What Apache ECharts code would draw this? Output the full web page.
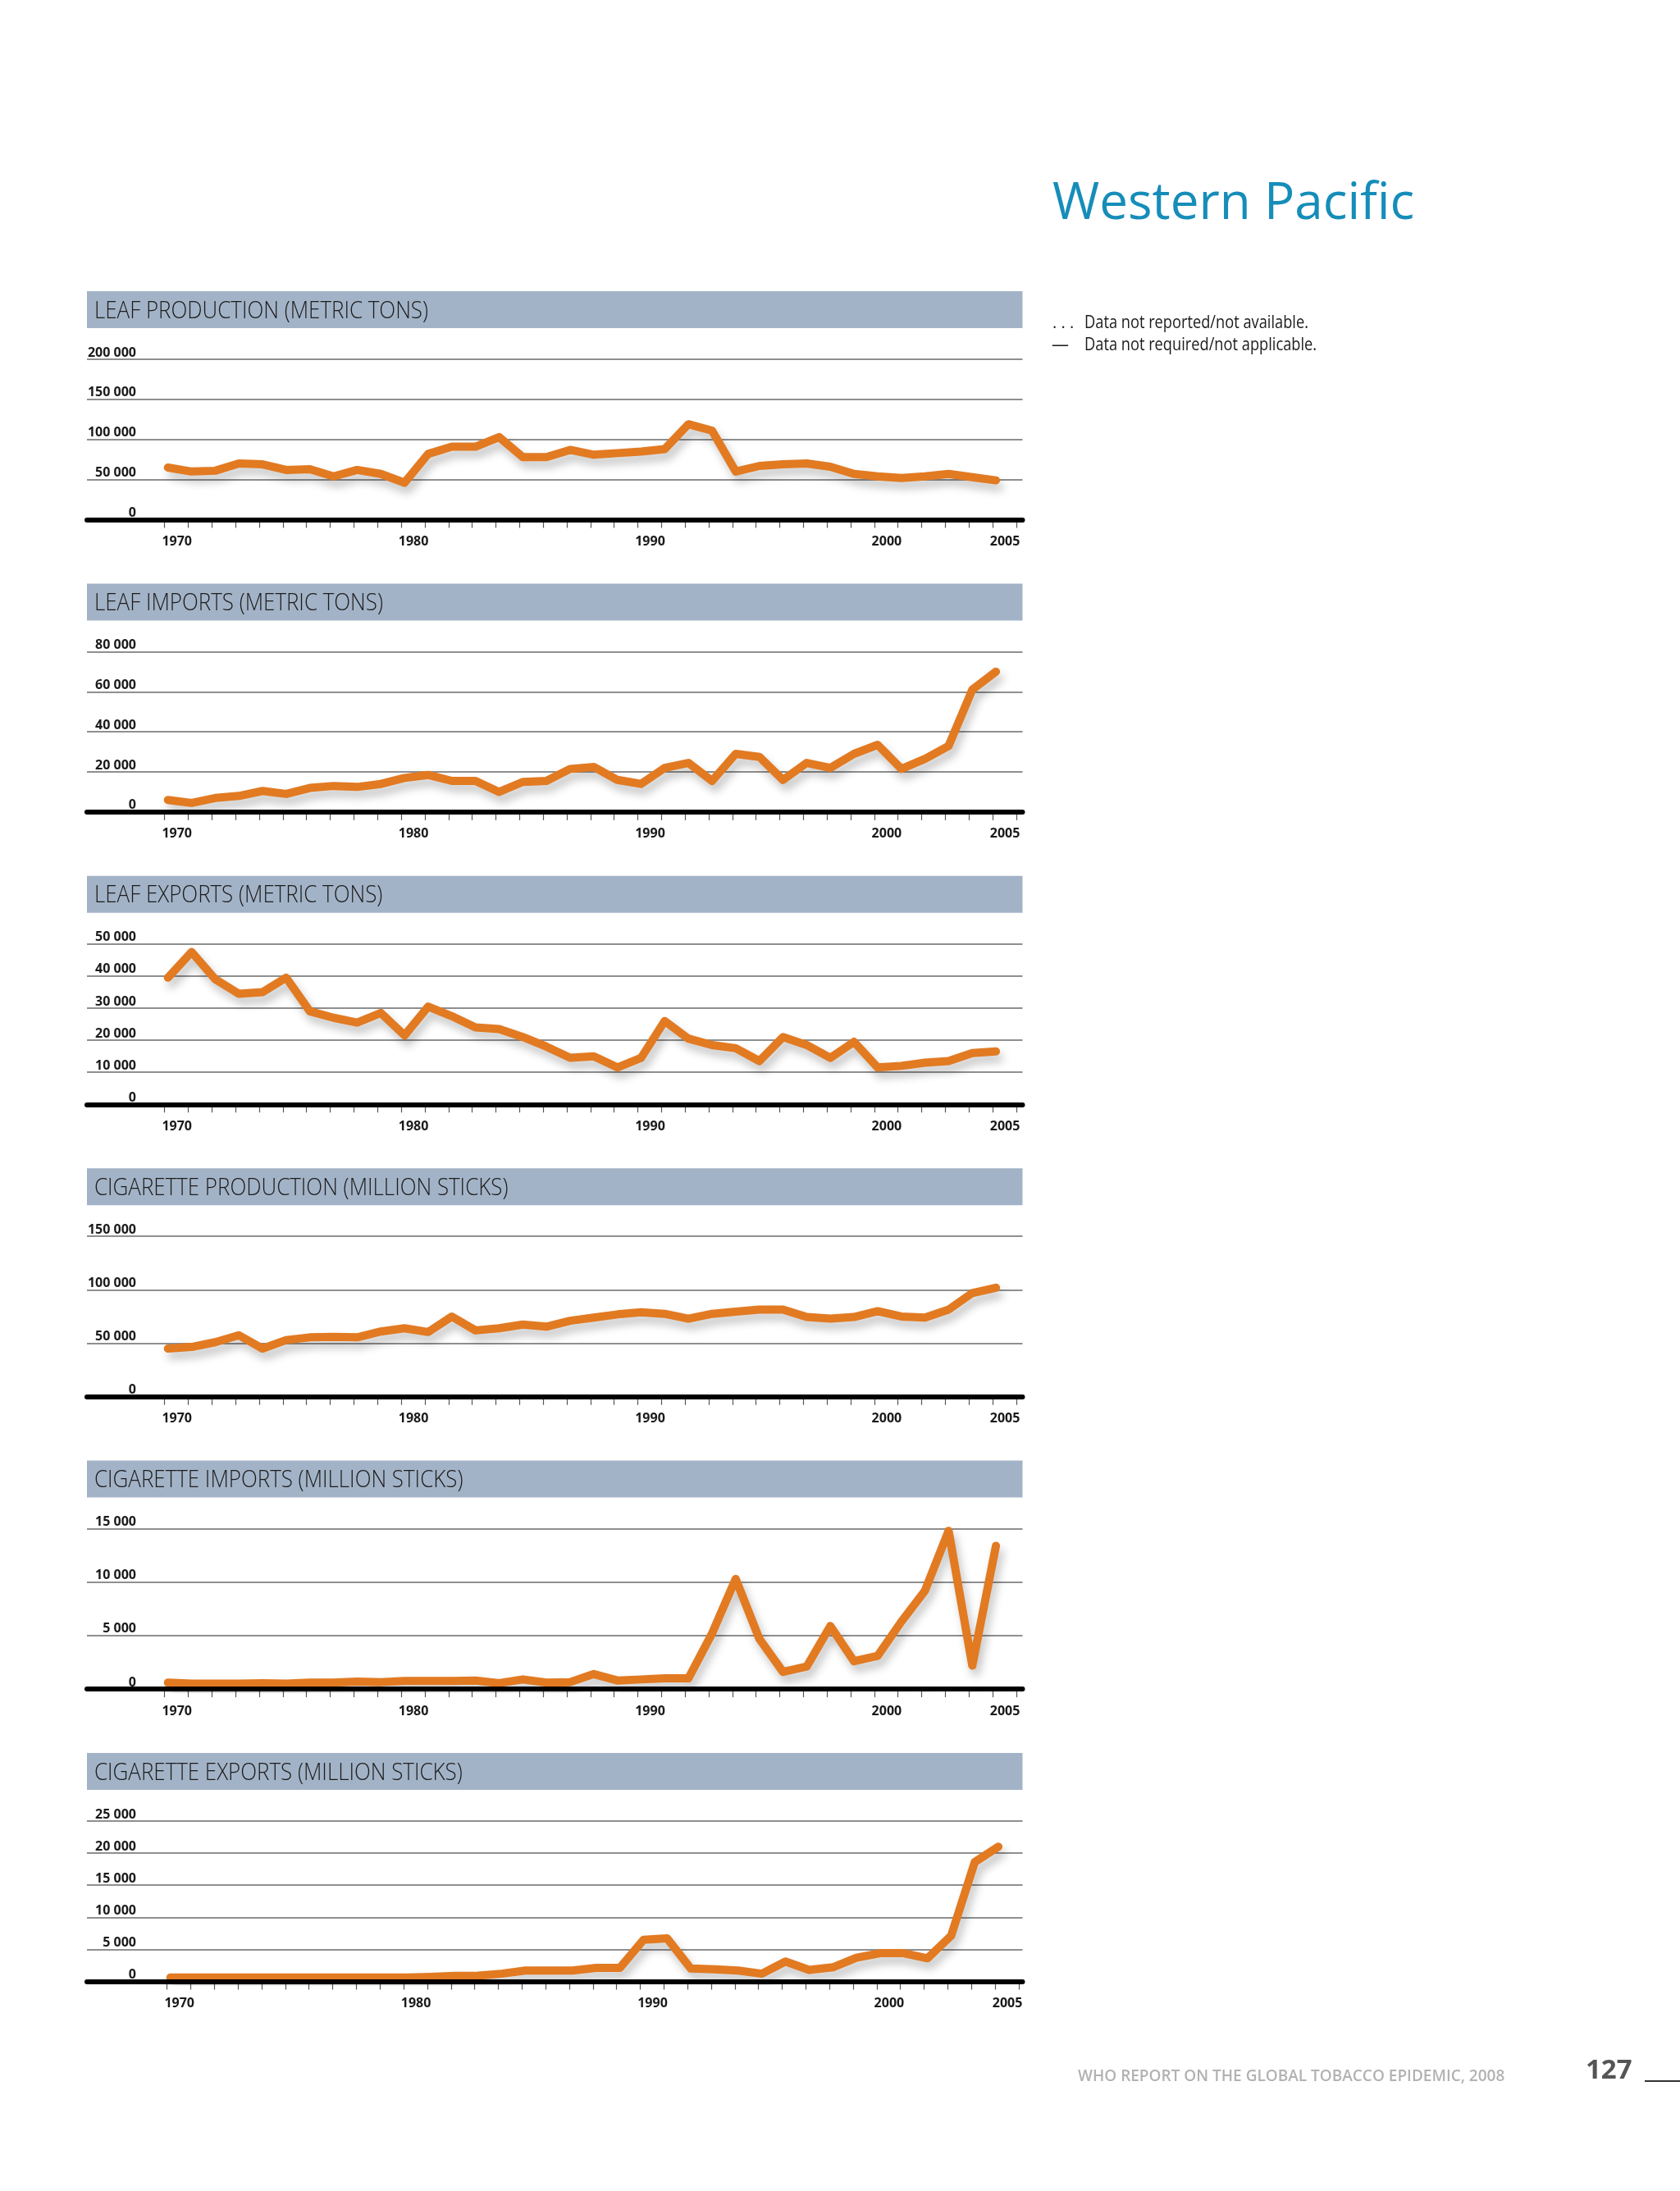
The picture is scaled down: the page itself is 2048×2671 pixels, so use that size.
<!DOCTYPE html>
<html>
<head>
<meta charset="utf-8">
<title>Western Pacific</title>
<script src="https://cdn.jsdelivr.net/npm/echarts@6/dist/echarts.min.js"></script>
<style>
	html, body { margin: 0; padding: 0; background: #fff; }
	#page { width: 2048px; height: 2671px; }
</style>
</head>
<body>
<div id="page"></div>
<script>
// years on the x axis
var years = [1970, 1971, 1972, 1973, 1974, 1975, 1976, 1977, 1978, 1979,
	1980, 1981, 1982, 1983, 1984, 1985, 1986, 1987, 1988, 1989,
	1990, 1991, 1992, 1993, 1994, 1995, 1996, 1997, 1998, 1999,
	2000, 2001, 2002, 2003, 2004, 2005];
var labelYears = [1970, 1980, 1990, 2000, 2005];

// values
var leafProduction = [65000, 60000, 61000, 70000, 69000, 62000, 63000, 54000, 62000, 57000,
	46000, 82000, 91000, 91000, 103000, 78000, 78000, 87000, 81000, 83000,
	85000, 88000, 119000, 111000, 60000, 67000, 69000, 70000, 66000, 57000,
	54000, 52000, 54000, 57000, 53000, 49000];
var leafImports = [6000, 4500, 7000, 8000, 10500, 9000, 12000, 13000, 12500, 14000,
	17000, 18500, 15500, 15500, 10000, 15000, 15500, 21500, 22500, 16000,
	14000, 22000, 24500, 15500, 29000, 27500, 16000, 24500, 22000, 29000,
	33500, 21500, 26500, 33000, 61000, 70000];
var leafExports = [39500, 47500, 39000, 34500, 35000, 39500, 29000, 27000, 25500, 28500,
	21500, 30500, 27500, 24000, 23500, 21000, 18000, 14500, 15000, 11500,
	14500, 26000, 20500, 18500, 17500, 13500, 21000, 18500, 14500, 19500,
	11500, 12000, 13000, 13500, 16000, 16500];
var cigProduction = [45000, 46500, 51000, 57500, 45000, 53000, 55500, 56000, 55500, 61000,
	64000, 60500, 75000, 62000, 64000, 67500, 65500, 71000, 74000, 77000,
	79000, 77500, 73000, 77500, 79500, 81500, 81500, 74500, 73000, 74500,
	80000, 75000, 74000, 81500, 97000, 102000];
var cigImports = [600, 500, 500, 500, 550, 500, 600, 600, 700, 650,
	750, 750, 750, 800, 550, 900, 600, 650, 1400, 800,
	900, 1000, 1000, 5200, 10300, 4700, 1600, 2100, 5900, 2600,
	3100, 6300, 9200, 14800, 2200, 13400];
var cigExports = [600, 600, 600, 600, 600, 600, 600, 600, 600, 600,
	600, 700, 850, 900, 1200, 1700, 1700, 1700, 2100, 2100,
	6500, 6700, 2000, 1900, 1700, 1200, 3100, 1800, 2200, 3700,
	4400, 4400, 3600, 7100, 18600, 21000];

// y tick labels
var leafProductionTicks = [0, 50000, 100000, 150000, 200000];
var leafImportsTicks = [0, 20000, 40000, 60000, 80000];
var leafExportsTicks = [0, 10000, 20000, 30000, 40000, 50000];
var cigProductionTicks = [0, 50000, 100000, 150000];
var cigImportsTicks = [0, 5000, 10000, 15000];
var cigExportsTicks = [0, 5000, 10000, 15000, 20000, 25000];

var panels = [
	{ title: 'LEAF PRODUCTION (METRIC TONS)', data: leafProduction, ticks: leafProductionTicks },
	{ title: 'LEAF IMPORTS (METRIC TONS)', data: leafImports, ticks: leafImportsTicks },
	{ title: 'LEAF EXPORTS (METRIC TONS)', data: leafExports, ticks: leafExportsTicks },
	{ title: 'CIGARETTE PRODUCTION (MILLION STICKS)', data: cigProduction, ticks: cigProductionTicks },
	{ title: 'CIGARETTE IMPORTS (MILLION STICKS)', data: cigImports, ticks: cigImportsTicks },
	{ title: 'CIGARETTE EXPORTS (MILLION STICKS)', data: cigExports, ticks: cigExportsTicks }
];

// layout
var plotLeft = 106, plotRight = 1246.5;
var firstBand = 355, panelStep = 356.4, plotHeight = 195.5;
var firstTick = 200.7, yearStep = 28.84, pointShift = 4;
var orange = '#E27A22';
var sans = '"Open Sans", "Noto Sans", sans-serif';

// the page uses a condensed face: squeeze Open Sans to the measured widths
var ctx = document.createElement('canvas').getContext('2d');
function measure(str, size, weight){
	ctx.font = weight + ' ' + size + 'px ' + sans;
	return ctx.measureText(str).width;
}
var titleSqueeze = 407 / measure('LEAF PRODUCTION (METRIC TONS)', 30, 300);
var noteSqueeze = 273 / measure('Data not reported/not available.', 21, 'normal');

function spaced(v){
	return String(v).replace(/\B(?=(\d{3})+(?!\d))/g, ' ');
}

function text(str, x, y, size, weight, color, squeeze){
	return {
		type: 'text', x: x, y: y, silent: true, z: 10,
		scaleX: squeeze || 1,
		style: {
			text: str, fill: color, fontSize: size, fontFamily: sans, fontWeight: weight,
			align: 'left', textAlign: 'left',
			verticalAlign: 'middle', textVerticalAlign: 'middle'
		}
	};
}

var grids = [], xAxes = [], yAxes = [], series = [], graphics = [];

panels.forEach(function(p, i){
	var bandTop = firstBand + panelStep * i;
	var shift = i == 5 ? 3 : 0;
	var plotTop = bandTop + 83;
	var a = grids.length, b = a + 1;

	// header band
	graphics.push({
		type: 'rect', silent: true, z: 1,
		shape: { x: plotLeft, y: bandTop, width: plotRight - plotLeft, height: 45 },
		style: { fill: '#A3B3C7' }
	});
	graphics.push(text(p.title, 115, bandTop + 24, 30, 300, '#1c1c1c', titleSqueeze));

	// grid a: gridlines, y labels, thick base line, the line itself
	grids.push({ left: plotLeft, top: plotTop, width: plotRight - plotLeft, height: plotHeight });
	// grid b: year ticks and labels
	grids.push({ left: firstTick + shift, top: plotTop, width: yearStep * 36, height: plotHeight });

	var xMin = 1970 - (firstTick + shift + pointShift - plotLeft) / yearStep;
	xAxes.push({
		type: 'value', gridIndex: a, min: xMin, max: xMin + (plotRight - plotLeft) / yearStep, z: 5,
		axisLine: { show: true, onZero: false, lineStyle: { color: '#000', width: 6 } },
		axisTick: { show: false }, axisLabel: { show: false }, splitLine: { show: false }
	});
	xAxes.push({
		type: 'value', gridIndex: b, min: 1970, max: 2006, interval: 1,
		axisLine: { show: false, onZero: false },
		axisTick: { show: true, length: 10, lineStyle: { color: '#555', width: 1.2 } },
		axisLabel: {
			margin: 19, align: 'center', padding: [0, 0, 0, 30],
			fontFamily: sans, fontWeight: 'bold', fontSize: 16, color: '#1a1a1a',
			formatter: function(v){ return labelYears.indexOf(v) >= 0 ? String(v) : ''; }
		},
		splitLine: { show: false }
	});
	yAxes.push({
		type: 'value', gridIndex: a, min: 0, max: p.ticks[p.ticks.length - 1], interval: p.ticks[1] - p.ticks[0],
		axisLine: { show: false }, axisTick: { show: false },
		splitLine: { show: true, lineStyle: { color: '#6a6a6a', width: 1.5 } },
		axisLabel: {
			inside: true, margin: 60, align: 'right', verticalAlign: 'bottom',
			fontFamily: sans, fontWeight: 'bold', fontSize: 16, color: '#1a1a1a',
			formatter: spaced
		}
	});
	yAxes.push({ type: 'value', gridIndex: b, min: 0, max: 1, show: false });

	series.push({
		type: 'line', xAxisIndex: a, yAxisIndex: a, symbol: 'none', silent: true, z: 3,
		data: years.map(function(y, k){ return [y, p.data[k]]; }),
		lineStyle: {
			color: orange, width: 10, cap: 'round', join: 'round',
			shadowColor: 'rgba(0,0,0,0.24)', shadowBlur: 11, shadowOffsetX: 4, shadowOffsetY: 8
		}
	});
});

// right hand column
graphics.push(text('Western Pacific', 1283, 249, 62, 'normal', '#168DB9'));
graphics.push(text('. . .', 1283, 394, 20, 'normal', '#222'));
graphics.push(text('Data not reported/not available.', 1322, 394, 21, 'normal', '#1a1a1a', noteSqueeze));
graphics.push(text('\u2014', 1282, 421, 21, 'normal', '#222'));
graphics.push(text('Data not required/not applicable.', 1322, 421, 21, 'normal', '#1a1a1a', noteSqueeze));

// footer
graphics.push(text('WHO REPORT ON THE GLOBAL TOBACCO EPIDEMIC, 2008', 1314, 2532, 19, 600, '#b2b2b2'));
graphics.push(text('127', 1933, 2525, 33, 'bold', '#555'));
graphics.push({
	type: 'rect', silent: true,
	shape: { x: 2005, y: 2536, width: 43, height: 2 },
	style: { fill: '#333' }
});

var chart = echarts.init(document.getElementById('page'));
chart.setOption({
	animation: false,
	backgroundColor: '#ffffff',
	grid: grids,
	xAxis: xAxes,
	yAxis: yAxes,
	series: series,
	graphic: { elements: graphics }
});
</script>
</body>
</html>
